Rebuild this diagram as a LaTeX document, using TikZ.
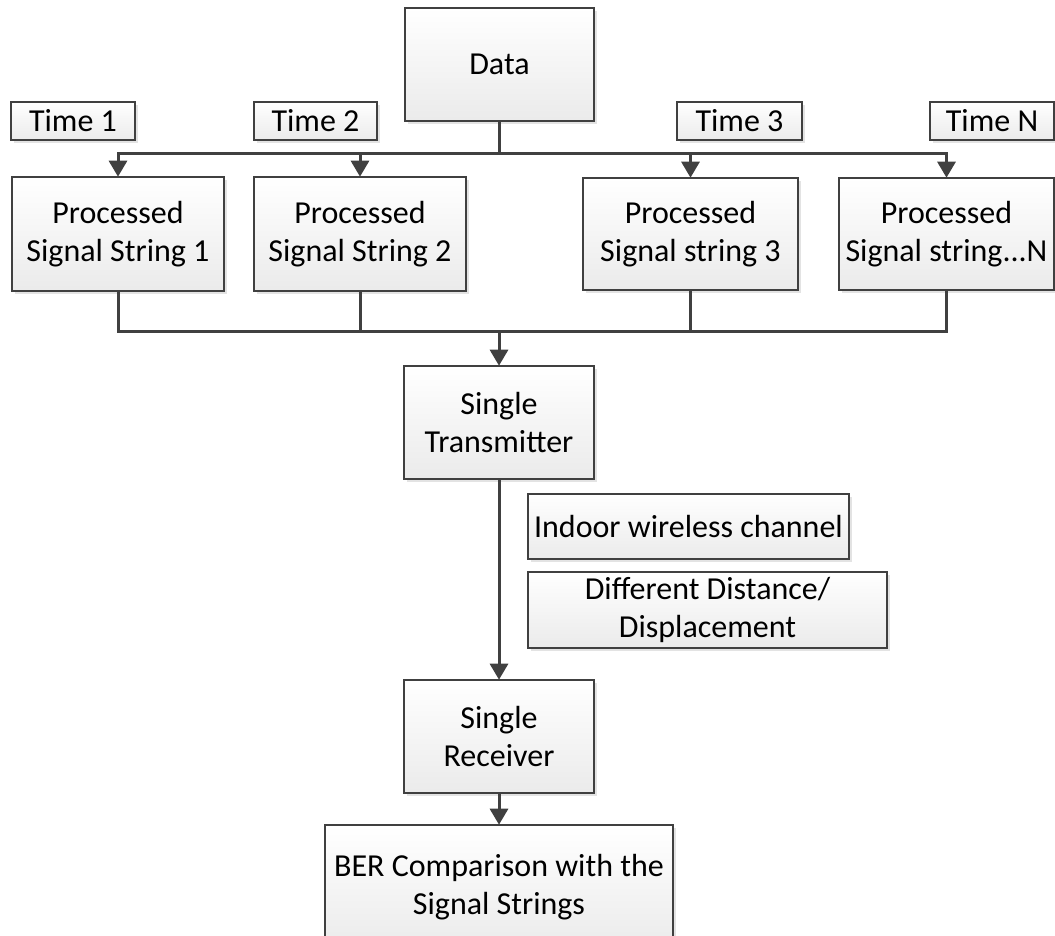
\documentclass[tikz,border=0pt]{standalone}
\usepackage{fontspec}
\setmainfont{Carlito}
\usetikzlibrary{arrows.meta,shadows}
\definecolor{edge}{HTML}{404040}
\begin{document}
\begin{tikzpicture}[x=1pt,y=-1pt,
  box/.style={draw=edge, line width=1.6pt, top color=white, bottom color=black!8,
    inner sep=0pt, align=center, font=\fontsize{32}{37.5}\selectfont,
    drop shadow={shadow xshift=3pt, shadow yshift=-3pt, fill=black!18, opacity=0.6}},
  link/.style={draw=edge, line width=3pt},
  flow/.style={link, -{Triangle[width=18pt,length=16pt]}, shorten >=-0.5pt}]
\clip (0,0) rectangle (1055,935);

% source and timing labels
\node[box, minimum width=189pt, minimum height=113pt] (data) at (499.5,64.5) {Data};
\node[box, minimum width=124pt, minimum height=38pt] (t1) at (73,121) {Time 1};
\node[box, minimum width=123pt, minimum height=38pt] (t2) at (315.5,121) {Time 2};
\node[box, minimum width=125pt, minimum height=38pt] (t3) at (739.5,121) {Time 3};
\node[box, minimum width=124pt, minimum height=38pt] (tN) at (992,121) {Time N};

% processed signal strings
\node[box, minimum width=212pt, minimum height=114pt] (p1) at (118,234) {Processed\\Signal String 1};
\node[box, minimum width=212pt, minimum height=114pt] (p2) at (360,234) {Processed\\Signal String 2};
\node[box, minimum width=215pt, minimum height=112pt] (p3) at (690.5,234) {Processed\\Signal string 3};
\node[box, minimum width=215pt, minimum height=112pt] (pN) at (946.5,234) {Processed\\Signal string...N};

% link chain
\node[box, minimum width=190pt, minimum height=113pt] (tx) at (499,422.5) {Single\\Transmitter};
\node[box, minimum width=321pt, minimum height=65pt] (ind) at (688.5,526.5) {Indoor wireless channel};
\node[box, minimum width=359pt, minimum height=76pt] (dist) at (707.5,610) {Different Distance/\\Displacement};
\node[box, minimum width=190pt, minimum height=113pt] (rx) at (499,736.5) {Single\\Receiver};
\node[box, minimum width=348pt, minimum height=124pt] (ber) at (499,887) {BER Comparison with the\\Signal Strings};

% distribution and collection buses
\coordinate (busT) at (499.5,153);
\coordinate (busB) at (499,331);

\draw[link] (data.south) -- (busT);
\foreach \p in {p1,p2,p3,pN} {
  \draw[flow] (busT) -| (\p.north);
  \draw[link] (\p.south) |- (busB);
}
\draw[flow] (busB) -- (tx.north);
\draw[flow] (tx.south) -- (rx.north);
\draw[flow] (rx.south) -- (ber.north);
\end{tikzpicture}
\end{document}
